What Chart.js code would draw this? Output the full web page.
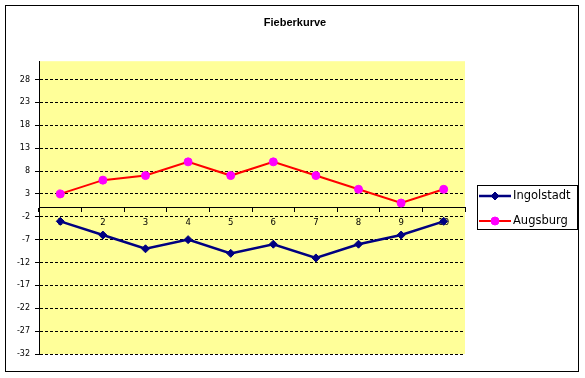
<!DOCTYPE html>
<html>
<head>
<meta charset="utf-8">
<title>Fieberkurve</title>
<script src="https://cdn.jsdelivr.net/npm/chart.js"></script>
<style>
  html, body { margin: 0; padding: 0; background: #fff; }
  #wrap { width: 585px; height: 378px; }
</style>
</head>
<body>
<div id="wrap"><canvas id="chart" width="585" height="378"></canvas></div>
<script>
// Fieberkurve data
const days = ["1", "2", "3", "4", "5", "6", "7", "8", "9", "10"];
const ingolstadt = [-3, -6, -9, -7, -10, -8, -11, -8, -6, -3];
const augsburg = [3, 6, 7, 10, 7, 10, 7, 4, 1, 4];
const yTicks = [-32, -27, -22, -17, -12, -7, -2, 3, 8, 13, 18, 23, 28];

// white frame + yellow plot area
const backdrop = {
  id: "backdrop",
  beforeDraw(chart) {
    const ctx = chart.ctx;
    const a = chart.chartArea;
    ctx.save();
    ctx.fillStyle = "#ffffff";
    ctx.fillRect(0, 0, chart.width, chart.height);
    ctx.strokeStyle = "#000000";
    ctx.lineWidth = 1;
    ctx.strokeRect(5.5, 5.5, 573, 366);
    ctx.fillStyle = "#FFFF99";
    ctx.fillRect(a.left, a.top, a.right - a.left, a.bottom - a.top);
    ctx.restore();
  },
};

// Excel style legend box on the right
const boxLegend = {
  id: "boxLegend",
  afterDraw(chart) {
    const ctx = chart.ctx;
    ctx.save();
    ctx.fillStyle = "#ffffff";
    ctx.fillRect(477.5, 185.5, 100, 44);
    ctx.strokeStyle = "#000000";
    ctx.lineWidth = 1;
    ctx.strokeRect(477.5, 185.5, 100, 44);
    chart.data.datasets.forEach((ds, i) => {
      const y = 196 + i * 25;
      ctx.strokeStyle = ds.borderColor;
      ctx.lineWidth = ds.borderWidth;
      ctx.beginPath();
      ctx.moveTo(479, y);
      ctx.lineTo(511, y);
      ctx.stroke();
      const r = ds.pointRadius;
      const cx = 495;
      ctx.fillStyle = ds.pointBackgroundColor;
      ctx.strokeStyle = ds.pointBorderColor;
      ctx.lineWidth = 1;
      ctx.beginPath();
      if (ds.pointStyle === "rectRot") {
        ctx.moveTo(cx - r, y);
        ctx.lineTo(cx, y - r);
        ctx.lineTo(cx + r, y);
        ctx.lineTo(cx, y + r);
        ctx.closePath();
      } else {
        ctx.arc(cx, y, r, 0, Math.PI * 2);
      }
      ctx.fill();
      ctx.stroke();
      ctx.fillStyle = "#000000";
      ctx.font = "11.5px 'DejaVu Sans'";
      ctx.textBaseline = "middle";
      ctx.textAlign = "left";
      ctx.fillText(ds.label, 513, y);
    });
    ctx.restore();
  },
};

new Chart(document.getElementById("chart"), {
  type: "line",
  data: {
    labels: days,
    datasets: [
      {
        label: "Ingolstadt",
        data: ingolstadt,
        borderColor: "#000080",
        borderWidth: 2.5,
        pointStyle: "rectRot",
        pointRadius: 4,
        pointBackgroundColor: "#000080",
        pointBorderColor: "#000080",
        pointBorderWidth: 1,
        tension: 0,
      },
      {
        label: "Augsburg",
        data: augsburg,
        borderColor: "#FF0000",
        borderWidth: 2,
        pointStyle: "circle",
        pointRadius: 4,
        pointBackgroundColor: "#FF00FF",
        pointBorderColor: "#FF00FF",
        pointBorderWidth: 1,
        tension: 0,
      },
    ],
  },
  options: {
    responsive: false,
    animation: false,
    layout: { padding: { left: 5, right: 0, top: 0, bottom: 24 } },
    scales: {
      x: {
        type: "category",
        offset: true,
        position: { y: 0 },
        grid: {
          display: true,
          offset: true,
          drawOnChartArea: false,
          drawTicks: true,
          tickLength: 4,
          tickColor: "#000000",
        },
        border: { display: true, color: "#000000", width: 1 },
        ticks: {
          color: "#000000",
          padding: 6,
          maxRotation: 0,
          font: { family: "DejaVu Sans", size: 8.5 },
        },
      },
      y: {
        min: -32,
        max: 32,
        afterBuildTicks: (axis) => {
          axis.ticks = yTicks.map((v) => ({ value: v }));
        },
        afterFit: (axis) => {
          axis.width = 34;
        },
        grid: {
          color: "#000000",
          lineWidth: 1,
          drawTicks: true,
          tickLength: 4,
          tickColor: "#000000",
          tickBorderDash: [],
        },
        border: { display: true, color: "#000000", width: 1, dash: [3, 2] },
        ticks: {
          color: "#000000",
          padding: 5,
          font: { family: "DejaVu Sans", size: 8 },
        },
      },
      // empty right axis only reserves room for the legend box
      yRoom: {
        position: "right",
        min: -32,
        max: 32,
        grid: { display: false },
        border: { display: false },
        ticks: { display: false },
        afterFit: (axis) => {
          axis.width = 120;
        },
      },
    },
    plugins: {
      legend: { display: false },
      tooltip: { enabled: false },
      title: {
        display: true,
        text: "Fieberkurve",
        color: "#000000",
        font: { family: "Liberation Sans", size: 11, weight: "bold" },
        padding: { top: 16, bottom: 32 },
      },
    },
  },
  plugins: [backdrop, boxLegend],
});
</script>
</body>
</html>
